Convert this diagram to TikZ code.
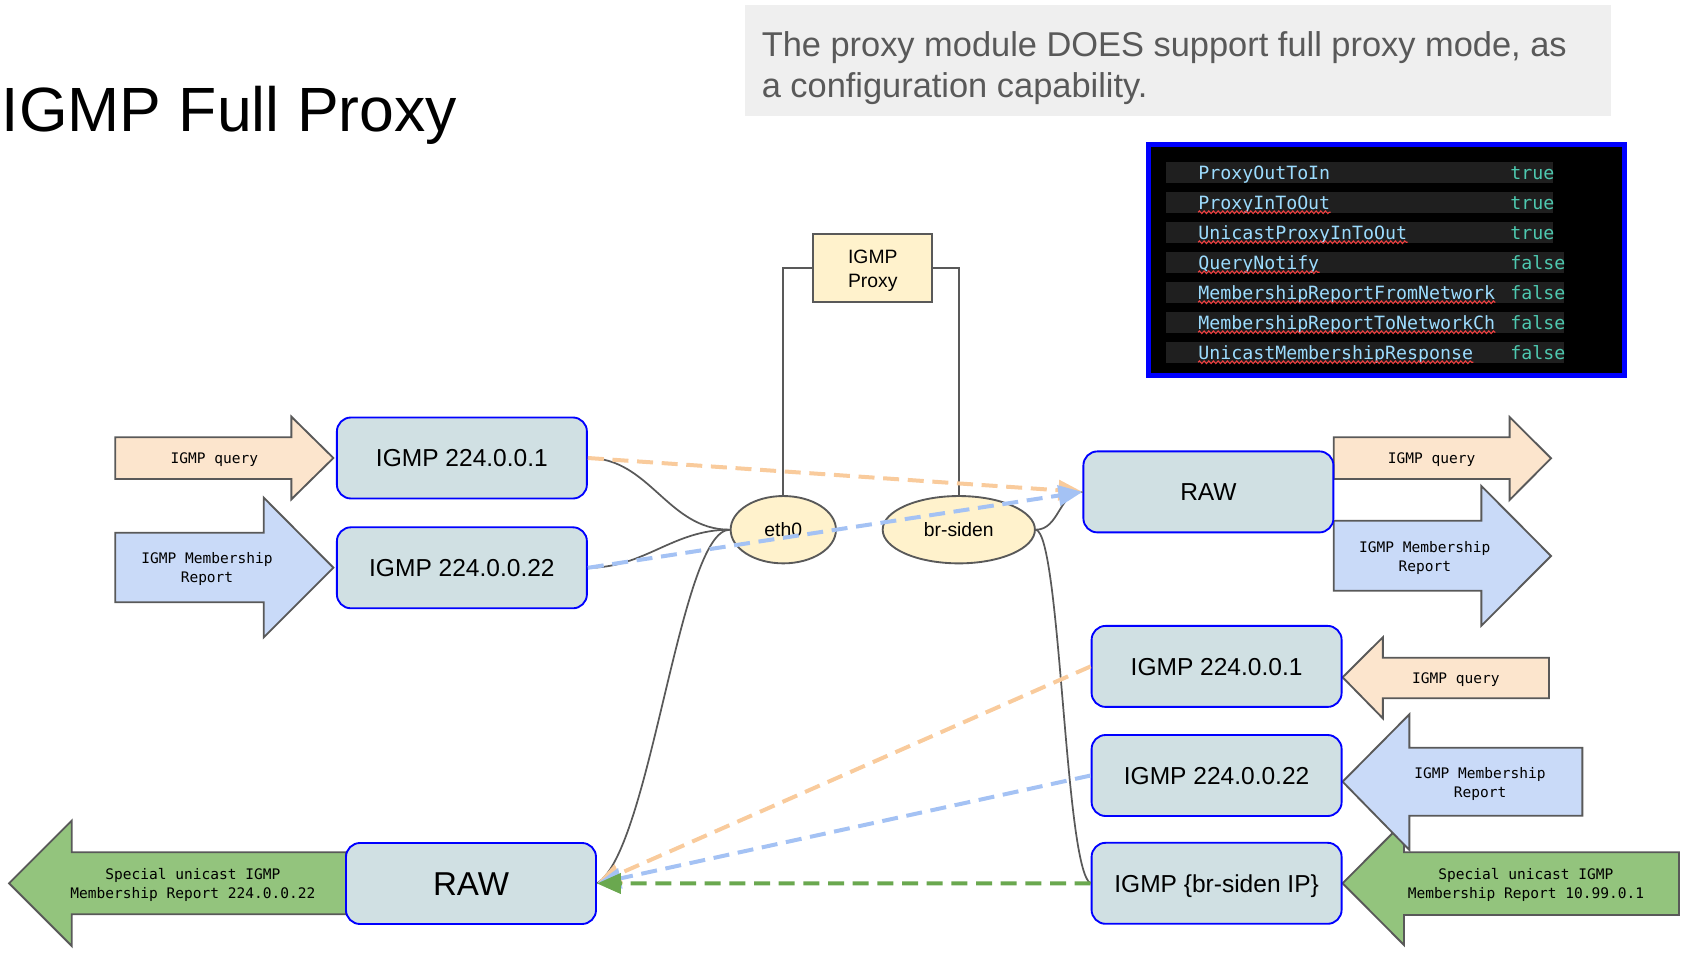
\documentclass[tikz,border=0pt]{standalone}
\usepackage{fontspec}
\setmainfont{Liberation Sans}
\setmonofont{DejaVu Sans Mono}
\usetikzlibrary{shapes.geometric,arrows.meta,decorations.pathmorphing}

\definecolor{boxfill}{HTML}{D0E0E3}
\definecolor{boxline}{HTML}{0000FF}
\definecolor{ifill}{HTML}{FFF2CC}
\definecolor{edge}{HTML}{595959}
\definecolor{qfill}{HTML}{FCE5CD}
\definecolor{qline}{HTML}{F9CB9C}
\definecolor{rfill}{HTML}{C9DAF8}
\definecolor{rline}{HTML}{A4C2F4}
\definecolor{ufill}{HTML}{93C47D}
\definecolor{uline}{HTML}{6AA84F}
\definecolor{notegray}{HTML}{EFEFEF}
\definecolor{notetext}{HTML}{595959}
\definecolor{rowgray}{HTML}{1F1F1F}
\definecolor{keyblue}{HTML}{9CDCFE}
\definecolor{valgreen}{HTML}{4EC9B0}
\definecolor{spell}{HTML}{F04040}

\tikzset{
  capc/.style={text height=#1, text depth=0pt},
  sockbox/.style={draw=boxline, fill=boxfill, line width=1.4pt, rounded corners=10.5pt,
    minimum width=187.5pt, minimum height=60.75pt, inner sep=0pt, capc=13.2pt,
    font=\fontsize{18.4}{22}\selectfont},
  iface/.style={ellipse, draw=edge, fill=ifill, line width=1.4pt, inner sep=0pt,
    minimum height=50.5pt, capc=10.4pt, font=\fontsize{14.5}{17}\selectfont},
  bigarrow/.style={draw=edge, line width=1.4pt, line join=miter},
  msg/.style={font=\ttfamily\fontsize{10.9}{14.3}\selectfont, align=center, inner sep=0pt},
  link/.style={draw=edge, line width=1.3pt},
  flow/.style={line width=3pt, dash pattern=on 12pt off 6.5pt, -{Triangle[length=18pt,width=15pt]}},
  optkey/.style={anchor=base west, inner sep=0pt, text=keyblue, font=\ttfamily\fontsize{13.7}{16}\selectfont},
  optval/.style={optkey, text=valgreen},
  squiggle/.style={draw=spell, line width=0.8pt, decorate, decoration={snake, amplitude=1pt, segment length=3.5pt}}
}

\begin{document}
\begin{tikzpicture}[x=0.75pt, y=-0.75pt]
    \useasboundingbox (0,0) rectangle (1681,959);

    % title and note %
    \node[anchor=base west, inner sep=0pt, font=\fontsize{46.9}{50}\selectfont] (title) at (1.5,131.7) {IGMP Full Proxy};
    \fill[notegray] (745,5) rectangle (1611,116);
    \node[anchor=base west, inner sep=0pt, text=notetext, font=\fontsize{25.8}{31}\selectfont] (notea) at (761.5,57) {The proxy module DOES support full proxy mode, as};
    \node[anchor=base west, inner sep=0pt, text=notetext, font=\fontsize{25.8}{31}\selectfont] (noteb) at (761.5,98) {a configuration capability.};

    % option table %
    \draw[boxline, line width=3.75pt, fill=black] (1148.5,144.2) rectangle (1624,375.5);
    \foreach \optname/\optset/\rowend [count=\i from 0] in {ProxyOutToIn/true/1553, ProxyInToOut/true/1553,
        UnicastProxyInToOut/true/1553, QueryNotify/false/1564, MembershipReportFromNetwork/false/1564,
        MembershipReportToNetworkCh/false/1564, UnicastMembershipResponse/false/1564}{
      \pgfmathsetmacro\rowy{172.5+30*\i}
      \fill[rowgray] (1166,{\rowy-10.8}) rectangle (\rowend,{\rowy+10.8});
      \node[optkey] (key\i) at (1198,{\rowy+6.8}) {\optname};
      \node[optval] (val\i) at (1510,{\rowy+6.8}) {\optset};
      \ifnum\i>0
        \draw[squiggle] ([yshift=-2.2pt]key\i.base west) -- ([yshift=-2.2pt]key\i.base east);
      \fi
    }

    % message arrows, left %
    \filldraw[bigarrow, fill=qfill] (115.3,437.3) -- (291.4,437.3) -- (291.4,416.7) -- (333.4,458) -- (291.4,499.3) -- (291.4,479) -- (115.3,479) -- cycle;
    \node[msg, capc=7.95pt] (qryleft) at (214.3,458) {IGMP query};
    \filldraw[bigarrow, fill=rfill] (115.3,532.7) -- (263.8,532.7) -- (263.8,497.7) -- (333.4,567.7) -- (263.8,637.3) -- (263.8,602.3) -- (115.3,602.3) -- cycle;
    \node[msg] (repleft) at (207,569) {IGMP Membership\\Report};
    \filldraw[bigarrow, fill=ufill] (346,852.3) -- (71.7,852.3) -- (71.7,820.7) -- (9.1,883.3) -- (71.7,946) -- (71.7,914.3) -- (346,914.3) -- cycle;
    \node[msg] (uniout) at (192.8,885.2) {Special unicast IGMP\\Membership Report 224.0.0.22};

    % message arrows, right %
    \filldraw[bigarrow, fill=qfill] (1333.7,437.3) -- (1509.6,437.3) -- (1509.6,417) -- (1551,458.3) -- (1509.6,500) -- (1509.6,479) -- (1333.7,479) -- cycle;
    \node[msg, capc=7.95pt] (qryright) at (1431.7,458) {IGMP query};
    \filldraw[bigarrow, fill=rfill] (1333.7,520.7) -- (1481.4,520.7) -- (1481.4,486) -- (1551,556) -- (1481.4,625.7) -- (1481.4,590.7) -- (1333.7,590.7) -- cycle;
    \node[msg] (repright) at (1424.8,558.2) {IGMP Membership\\Report};
    \filldraw[bigarrow, fill=qfill] (1549,657.7) -- (1382.8,657.7) -- (1382.8,637.3) -- (1342.6,677.3) -- (1382.8,718.3) -- (1382.8,698.3) -- (1549,698.3) -- cycle;
    \node[msg, capc=7.95pt] (qryin) at (1455.8,678.3) {IGMP query};
    \filldraw[bigarrow, fill=ufill] (1679,852.3) -- (1404,852.3) -- (1404,821.6) -- (1342.6,883.3) -- (1404,945) -- (1404,915) -- (1679,915) -- cycle;
    \node[msg] (uniin) at (1525.9,885.3) {Special unicast IGMP\\Membership Report 10.99.0.1};
    \filldraw[bigarrow, fill=rfill] (1582.4,747.7) -- (1409.4,747.7) -- (1409.4,714.3) -- (1342.6,781.7) -- (1409.4,850) -- (1409.4,815.7) -- (1582.4,815.7) -- cycle;
    \node[msg] (repin) at (1480,784) {IGMP Membership\\Report};

    % sockets %
    \node[sockbox] (lgrp1) at (461.9,458) {IGMP 224.0.0.1};
    \node[sockbox] (lgrp22) at (461.9,567.8) {IGMP 224.0.0.22};
    \node[sockbox, capc=17.8pt, font=\fontsize{24.8}{30}\selectfont] (rawdown) at (471,883.5) {RAW};
    \node[sockbox] (rawup) at (1208.4,491.9) {RAW};
    \node[sockbox] (rgrp1) at (1216.6,666.4) {IGMP 224.0.0.1};
    \node[sockbox] (rgrp22) at (1216.6,775.5) {IGMP 224.0.0.22};
    \node[sockbox] (brip) at (1216.6,883.3) {IGMP \{br-siden IP\}};

    % proxy and interfaces %
    \node[draw=edge, fill=ifill, line width=1.4pt, minimum width=89.25pt, minimum height=50.8pt, inner sep=0pt,
      align=center, font=\fontsize{14.5}{18.3}\selectfont] (proxy) at (872.8,267.9) {\rule{0pt}{14.3pt}IGMP\\Proxy};
    \node[iface, minimum width=79pt] (eth0) at (783.3,529.7) {eth0};
    \node[iface, minimum width=114.2pt] (brsiden) at (958.8,529.7) {br-siden};

    % links %
    \draw[link] (proxy.west) -| (eth0.north);
    \draw[link] (proxy.east) -| (brsiden.north);
    \draw[link] (lgrp1.east) to[out=0,in=180] (eth0.west);
    \draw[link] (lgrp22.east) to[out=0,in=180] (eth0.west);
    \draw[link] (eth0.west) .. controls +(-50,0) and +(54,-33) .. (rawdown.east);
    \draw[link] (brsiden.east) to[out=0,in=180] (rawup.west);
    \draw[link] (brsiden.east) .. controls +(25,5) and +(-26,-13) .. (brip.west);

    % flows %
    \draw[flow, qline] (lgrp1.east) -- (rawup.west);
    \draw[flow, rline] (lgrp22.east) -- (rawup.west);
    \draw[flow, qline] (rgrp1.west) -- (rawdown.east);
    \draw[flow, rline] (rgrp22.west) -- (rawdown.east);
    \draw[flow, uline] (brip.west) -- (rawdown.east);
\end{tikzpicture}
\end{document}
